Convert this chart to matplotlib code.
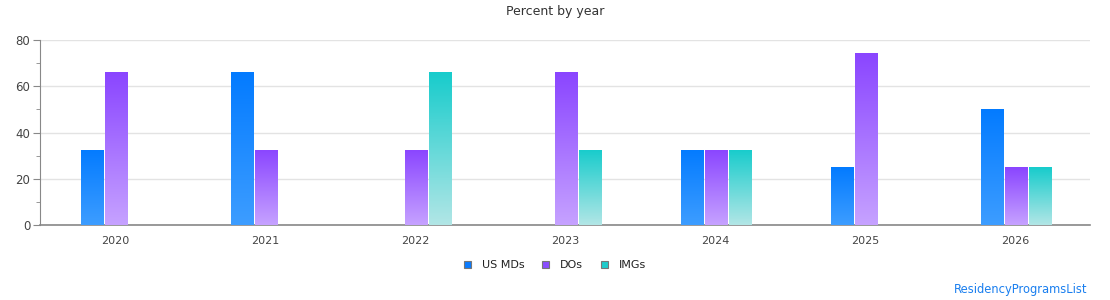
import matplotlib
matplotlib.use("Agg")
import matplotlib.pyplot as plt
import numpy as np
from matplotlib.colors import LinearSegmentedColormap
from matplotlib.patches import Rectangle

years = ["2020", "2021", "2022", "2023", "2024", "2025", "2026"]
series_names = ["US MDs", "DOs", "IMGs"]
us_mds = [32.5, 66, 0, 0, 32.5, 25, 50]
dos = [66, 32.5, 32.5, 66, 32.5, 74.5, 25]
imgs = [0, 0, 66, 32.5, 32.5, 0, 25]
top_colors = ["#037bff", "#8a45ff", "#17cccc"]
bottom_colors = ["#3d9dff", "#c6a2ff", "#b2e6e6"]
legend_colors = ["#0a7bff", "#8a4dff", "#1ecbcb"]

fig = plt.figure(figsize=(11.1, 3.0), dpi=100)
ax = fig.add_axes([40 / 1110, 1 - 225 / 300, 1050 / 1110, 185 / 300])

x = np.arange(len(years))
w = 0.153
step = 0.16
offset = 0.008
data = [us_mds, dos, imgs]
grad = np.linspace(1, 0, 256).reshape(-1, 1)
for i, vals in enumerate(data):
    bars = ax.bar(x + (i - 1) * step + offset, vals, width=w, color="none", zorder=3,
                  linewidth=0)
    cmap = LinearSegmentedColormap.from_list("g%d" % i, [bottom_colors[i], top_colors[i]])
    for b, v in zip(bars, vals):
        if v <= 0:
            continue
        x0 = b.get_x()
        bw, bh = b.get_width(), b.get_height()
        im = ax.imshow(grad, cmap=cmap, aspect="auto",
                       extent=[x0, x0 + bw, 0, bh], origin="upper",
                       zorder=3, interpolation="bilinear")
        im.set_clip_path(b)

ax.set_xlim(-0.5, len(years) - 0.5)
ax.set_ylim(0, 80)
ax.set_xticks(x)
ax.set_xticklabels(years)
ax.set_yticks([0, 20, 40, 60, 80])
ax.set_yticks([10, 30, 50, 70], minor=True)
ax.yaxis.grid(True, color="#e3e3e3", linewidth=1, zorder=0)
ax.set_axisbelow(True)
for s in ["top", "right"]:
    ax.spines[s].set_visible(False)
ax.spines["left"].set_color("#888888")
ax.spines["bottom"].set_color("#888888")
ax.spines["bottom"].set_linewidth(1.2)
ax.tick_params(axis="y", which="major", length=5, color="#888888", labelsize=8.5,
               labelcolor="#444444", pad=2)
ax.tick_params(axis="y", which="minor", length=3, color="#888888")
ax.tick_params(axis="x", length=0, labelsize=8, labelcolor="#444444", pad=8)

fig.text(0.5, 1 - 12 / 300, "Percent by year", ha="center", va="center",
         fontsize=9, color="#333333")

handles = [Rectangle((0, 0), 1, 1, facecolor=c, edgecolor="#777777", linewidth=0.8)
           for c in legend_colors]
fig.legend(handles, series_names, loc="center", bbox_to_anchor=(0.5, 1 - 265 / 300),
           ncol=3, frameon=False, fontsize=8, handlelength=0.6, handleheight=0.6,
           columnspacing=1.6, handletextpad=1.0, labelcolor="#222222")

fig.text(1 - 23 / 1110, 1 - 289 / 300, "ResidencyProgramsList", ha="right",
         va="center", fontsize=8.3, color="#1a7fef")

fig.savefig("out.png", dpi=100)
